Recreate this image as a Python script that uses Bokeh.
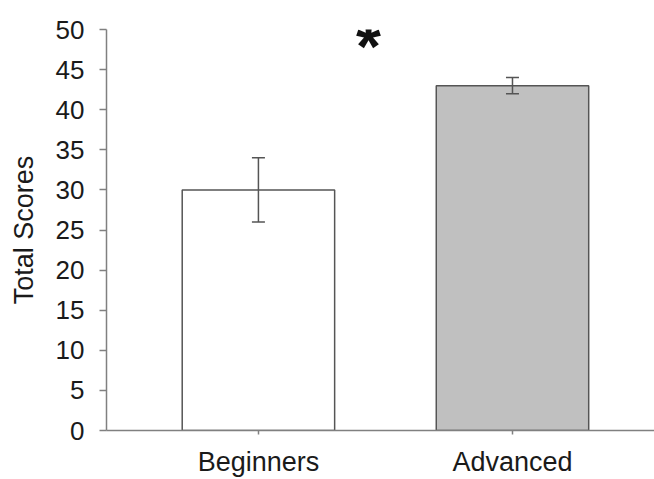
from bokeh.plotting import figure
from bokeh.models import ColumnDataSource, Whisker, TeeHead, FixedTicker, Range1d, Label
from bokeh.embed import file_html
from bokeh.resources import INLINE

# Data
categories = ["Beginners", "Advanced"]
means = [30, 43]
err_lower = [26, 42]
err_upper = [34, 44]
fill_colors = ["#ffffff", "#c0c0c0"]
y_ticks = [0, 5, 10, 15, 20, 25, 30, 35, 40, 45, 50]
sig_label = "*"

xs = [i + 1 for i in range(len(categories))]

src = ColumnDataSource(dict(x=xs, top=means, lower=err_lower, upper=err_upper, color=fill_colors))

p = figure(width=654, height=479, output_backend="svg", toolbar_location=None,
           x_range=Range1d(0.402, 2.559), y_range=Range1d(0, 50),
           min_border_left=106, min_border_right=0, min_border_top=29, min_border_bottom=48)
p.outline_line_color = None
p.xgrid.visible = False
p.ygrid.visible = False
p.background_fill_color = "white"
p.border_fill_color = "white"

p.vbar(x="x", top="top", bottom=0, width=0.6, source=src, fill_color="color",
       line_color="#555555", line_width=1.5)

w = Whisker(base="x", lower="lower", upper="upper", source=src, level="annotation",
            line_color="#555555", line_width=1.5,
            upper_head=TeeHead(size=13, line_color="#555555", line_width=1.5),
            lower_head=TeeHead(size=13, line_color="#555555", line_width=1.5))
p.add_layout(w)

# significance marker between the two bars
p.add_layout(Label(x=(xs[0] + xs[1]) / 2 - 0.067, y=47.8, text=sig_label, text_align="center",
                   text_baseline="alphabetic", text_font="Liberation Sans", text_font_style="bold",
                   text_font_size="64px", text_color="#111111"))

for ax in (p.xaxis[0], p.yaxis[0]):
    ax.axis_line_color = "#808080"
    ax.axis_line_width = 1.5
    ax.major_tick_line_color = "#808080"
    ax.major_tick_line_width = 1.5
    ax.minor_tick_line_color = None
    ax.major_label_text_font = "Liberation Sans"
    ax.major_label_text_color = "#1a1a1a"
    ax.major_tick_in = 0

p.xaxis.ticker = FixedTicker(ticks=xs)
p.xaxis.major_label_overrides = {x: c for x, c in zip(xs, categories)}
p.xaxis.major_label_text_font_size = "27px"
p.xaxis.major_tick_out = 4
p.xaxis.major_label_standoff = 12

p.yaxis.ticker = FixedTicker(ticks=y_ticks)
p.yaxis.major_label_text_font_size = "26px"
p.yaxis.major_tick_out = 7
p.yaxis.major_label_standoff = 15
p.yaxis.axis_label = "Total Scores"
p.yaxis.axis_label_text_font = "Liberation Sans"
p.yaxis.axis_label_text_font_size = "27px"
p.yaxis.axis_label_text_font_style = "normal"
p.yaxis.axis_label_text_color = "#1a1a1a"
p.yaxis.axis_label_standoff = 14

open("out.html", "w").write(file_html(p, INLINE))
